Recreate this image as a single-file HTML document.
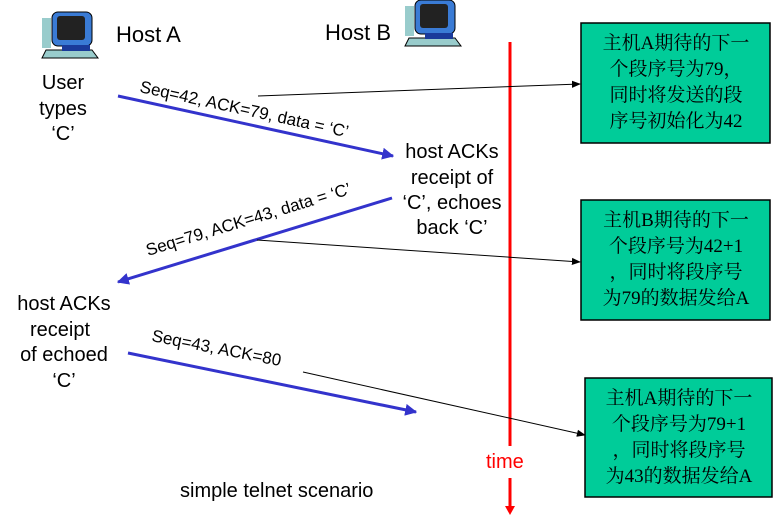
<!DOCTYPE html>
<html><head><meta charset="utf-8"><style>
body{margin:0;background:#fff;width:773px;height:525px;overflow:hidden}
svg text{font-family:"Liberation Sans",sans-serif}
svg .c text{font-family:"Liberation Serif","Noto Serif CJK SC",serif;font-size:19px}
</style></head><body>
<svg width="773" height="525" viewBox="0 0 773 525">
<defs>
<marker id="b" viewBox="0 0 10 10" refX="9" refY="5" markerWidth="4" markerHeight="4" orient="auto"><path d="M0,0L10,5L0,10z" fill="#3333cc"/></marker>
<marker id="k" viewBox="0 0 10 10" refX="9" refY="5" markerWidth="9" markerHeight="9" orient="auto"><path d="M0,1L10,5L0,9z" fill="#000"/></marker>
<g id="pc">
<rect x="0" y="6" width="9" height="30" fill="#9cc"/>
<rect x="10" y="0" width="40" height="34" rx="6" fill="#3a7bd5" stroke="#000"/>
<rect x="15" y="4" width="28" height="24" rx="3" fill="#222"/>
<polygon points="4,38 50,38 56,46 0,46" fill="#9cc" stroke="#000"/>
<rect x="20" y="33" width="28" height="6" fill="#1a3a9a"/>
</g>
</defs>
<use href="#pc" x="42" y="12"/>
<use href="#pc" x="405" y="0"/>
<text x="116" y="42" font-size="22">Host A</text>
<text x="325" y="40" font-size="22">Host B</text>
<g text-anchor="middle" font-size="20">
<text x="63" y="89">User</text><text x="63" y="115">types</text><text x="63" y="140">‘C’</text>
<text x="452" y="158">host ACKs</text><text x="452" y="184">receipt of</text><text x="452" y="209">‘C’, echoes</text><text x="452" y="234">back ‘C’</text>
<text x="64" y="310">host ACKs</text><text x="60" y="336">receipt</text><text x="64" y="361">of echoed</text><text x="64" y="387">‘C’</text>
</g>
<text x="180" y="497" font-size="20">simple telnet scenario</text>
<line x1="510" y1="42" x2="510" y2="446" stroke="#f00" stroke-width="3"/>
<line x1="510" y1="478" x2="510" y2="508" stroke="#f00" stroke-width="3"/>
<polygon points="505,506 515,506 510,515" fill="#f00"/>
<text x="486" y="468" fill="#f00" font-size="20">time</text>
<line x1="118" y1="96" x2="393" y2="156" stroke="#3333cc" stroke-width="3" marker-end="url(#b)"/>
<line x1="392" y1="198" x2="118" y2="282" stroke="#3333cc" stroke-width="3" marker-end="url(#b)"/>
<line x1="128" y1="353" x2="416" y2="412" stroke="#3333cc" stroke-width="3" marker-end="url(#b)"/>
<text font-size="17" transform="translate(139,92) rotate(12.3)">Seq=42, ACK=79, data = ‘C’</text>
<text font-size="17" transform="translate(148,256) rotate(-17)">Seq=79, ACK=43, data = ‘C’</text>
<text font-size="17" transform="translate(151,341) rotate(11)">Seq=43, ACK=80</text>
<line x1="258" y1="96" x2="580" y2="84" stroke="#000" stroke-width="1" marker-end="url(#k)"/>
<line x1="257" y1="240" x2="580" y2="262" stroke="#000" stroke-width="1" marker-end="url(#k)"/>
<line x1="303" y1="372" x2="585" y2="435" stroke="#000" stroke-width="1" marker-end="url(#k)"/>
<rect x="581" y="23" width="189" height="120" fill="#00cc99" stroke="#000" stroke-width="1.5"/>
<rect x="581" y="200" width="189" height="120" fill="#00cc99" stroke="#000" stroke-width="1.5"/>
<rect x="585" y="378" width="187" height="119" fill="#00cc99" stroke="#000" stroke-width="1.5"/>
<g class="c" text-anchor="middle" fill="#000">
<text x="676" y="49">主机A期待的下一</text><text x="676" y="75">个段序号为79，</text><text x="676" y="101">同时将发送的段</text><text x="676" y="127">序号初始化为42</text>
<text x="676" y="226">主机B期待的下一</text><text x="676" y="252">个段序号为42+1</text><text x="676" y="278">，同时将段序号</text><text x="676" y="304">为79的数据发给A</text>
<text x="679" y="404">主机A期待的下一</text><text x="679" y="430">个段序号为79+1</text><text x="679" y="456">，同时将段序号</text><text x="679" y="482">为43的数据发给A</text>
</g>
</svg>
</body></html>
